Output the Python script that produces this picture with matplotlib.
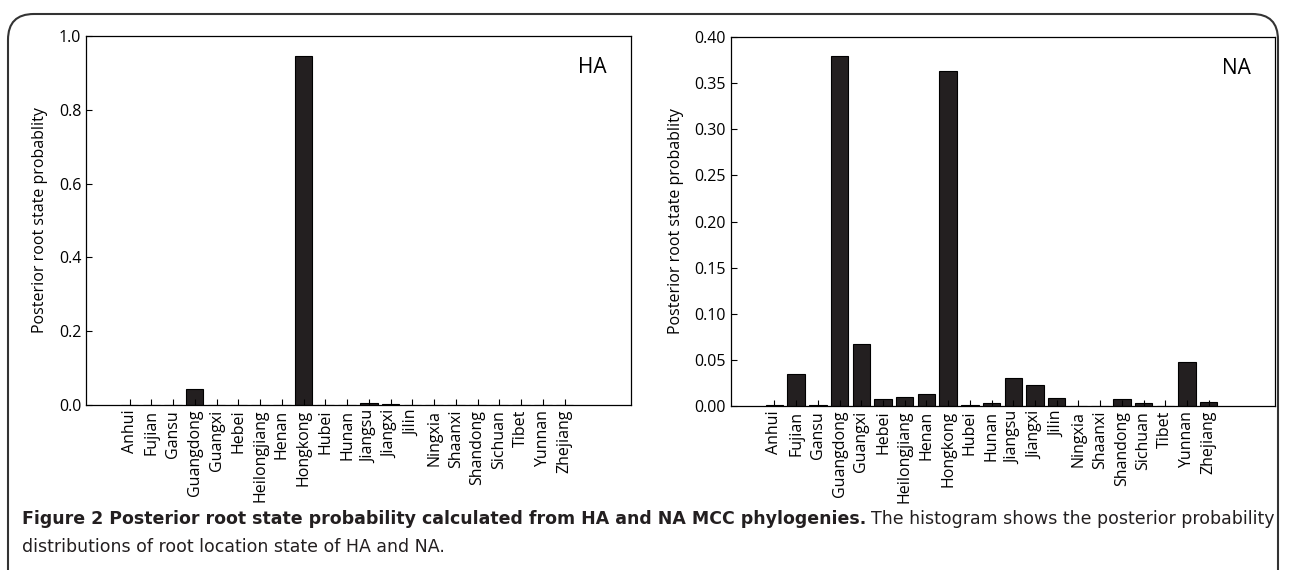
import matplotlib
matplotlib.use("Agg")
import matplotlib.pyplot as plt
from matplotlib.patches import FancyBboxPatch
import numpy as np

provinces = ['Anhui', 'Fujian', 'Gansu', 'Guangdong', 'Guangxi', 'Hebei',
             'Heilongjiang', 'Henan', 'Hongkong', 'Hubei', 'Hunan', 'Jiangsu',
             'Jiangxi', 'Jilin', 'Ningxia', 'Shaanxi', 'Shandong', 'Sichuan',
             'Tibet', 'Yunnan', 'Zhejiang']

ha_prob = [0.001, 0.001, 0.001, 0.043, 0.001, 0.001, 0.001, 0.001, 0.946,
           0.001, 0.001, 0.005, 0.002, 0.001, 0.001, 0.001, 0.001, 0.001,
           0.001, 0.001, 0.001]
na_prob = [0.001, 0.035, 0.001, 0.379, 0.0676, 0.008, 0.0094, 0.0134, 0.363,
           0.001, 0.0036, 0.0307, 0.0231, 0.009, 0.0005, 0.0005, 0.008,
           0.0036, 0.0005, 0.0477, 0.0043]

ha_ticks = [0.0, 0.2, 0.4, 0.6, 0.8, 1.0]
na_ticks = [0.00, 0.05, 0.10, 0.15, 0.20, 0.25, 0.30, 0.35, 0.40]

plt.rcParams['font.family'] = ['Open Sans', 'DejaVu Sans']
W, H = 1290, 570
fig = plt.figure(figsize=(W / 100, H / 100), dpi=100)

# 枠線（角丸）
box = FancyBboxPatch((8 / W, -0.05), (W - 12) / W - 8 / W, 1.05 - 14 / H,
                     boxstyle="round,pad=0,rounding_size=0.02",
                     transform=fig.transFigure, fill=False,
                     edgecolor='#333333', linewidth=1.5, mutation_aspect=W / H)
fig.patches.append(box)

def draw_panel(rect, values, yticks, fmt, label):
    ax = fig.add_axes(rect)
    x = np.arange(len(provinces))
    ax.bar(x, values, width=0.8, color='#231f20', edgecolor='black',
           linewidth=0.8)
    ax.set_xlim(-2.0, 23.05)
    ax.set_ylim(yticks[0], yticks[-1])
    ax.set_yticks(yticks)
    ax.set_yticklabels([fmt.format(v) for v in yticks], fontsize=11.5)
    ax.set_xticks(x)
    ax.set_xticklabels(provinces, rotation=90, fontsize=11.5)
    ax.tick_params(direction='in', length=4, width=0.8)
    ax.set_ylabel('Posterior root state probablity', fontsize=11.5, labelpad=8)
    ax.text(0.955, 0.915, label, transform=ax.transAxes, ha='right',
            va='center', fontsize=15)
    for s in ax.spines.values():
        s.set_linewidth(0.9)
    return ax

draw_panel([86 / W, 1 - 405 / H, (631 - 86) / W, (405 - 36) / H],
           ha_prob, ha_ticks, '{:.1f}', 'HA')
draw_panel([731 / W, 1 - 406 / H, (1275 - 731) / W, (406 - 37) / H],
           na_prob, na_ticks, '{:.2f}', 'NA')

# キャプション
cap_font = ['DejaVu Sans']
t1 = fig.text(22 / W, 1 - 519 / H,
              'Figure 2 Posterior root state probability calculated from HA and NA MCC phylogenies.',
              fontsize=12.5, fontweight='bold', family=cap_font,
              color='#231f20', va='center')
fig.canvas.draw()
bb = t1.get_window_extent(fig.canvas.get_renderer())
fig.text(bb.x1 / W + 5 / W, 1 - 519 / H,
         'The histogram shows the posterior probability',
         fontsize=12.5, family=cap_font, color='#231f20', va='center')
fig.text(22 / W, 1 - 547 / H,
         'distributions of root location state of HA and NA.',
         fontsize=12.5, family=cap_font, color='#231f20', va='center')

fig.savefig('out.png', dpi=100)
